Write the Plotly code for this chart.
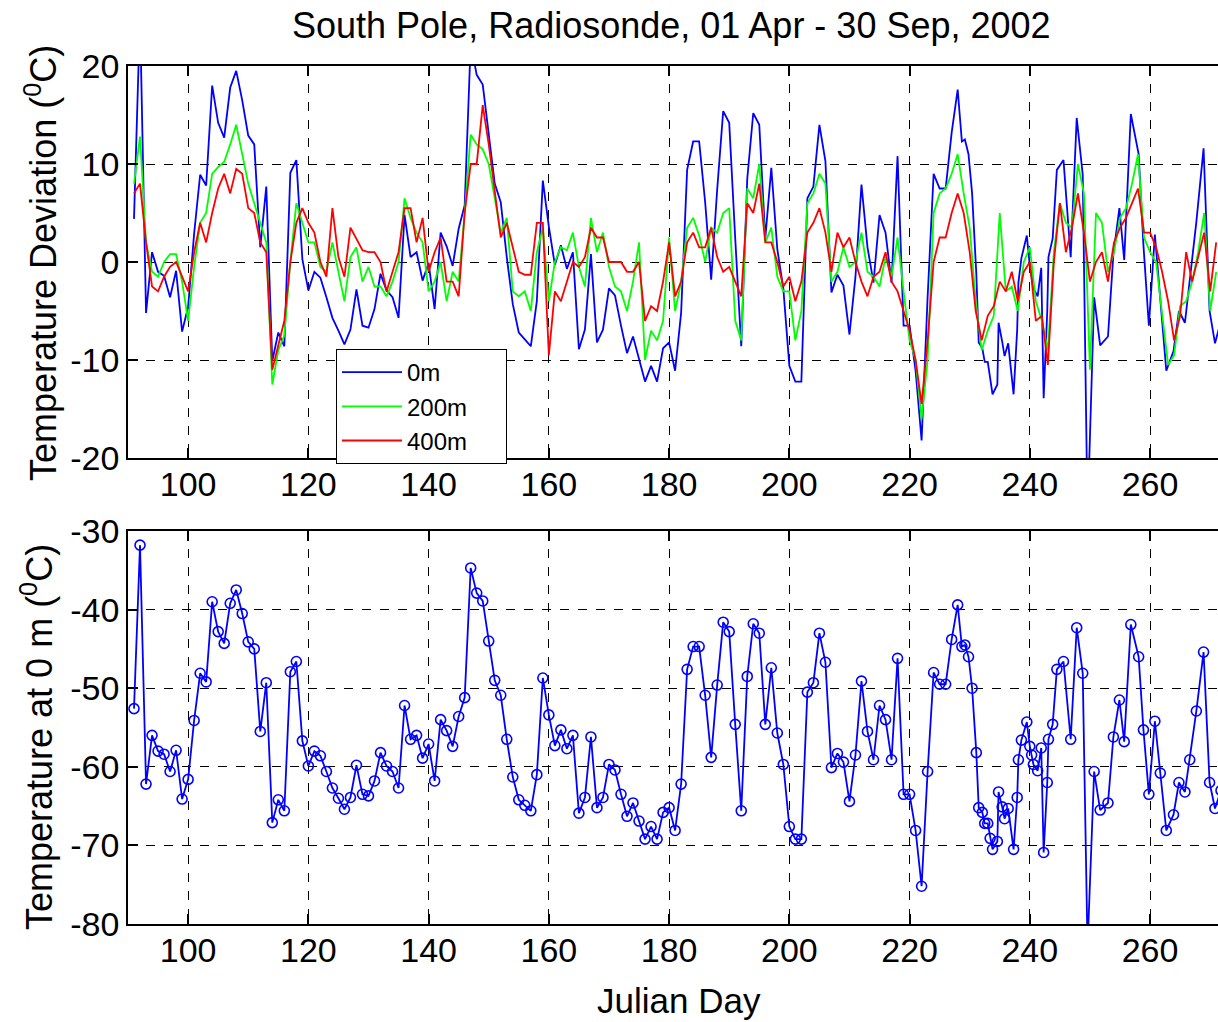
import plotly.graph_objects as go

# ---------------- data ----------------
# 0 m temperature (deg C), one sounding per day (bottom panel)
days_0m = list(range(91, 229)) + [
    228.7, 229.2, 229.8, 230.4, 231.1, 231.5, 232.1, 232.5, 233.0, 233.4, 233.8,
    234.6, 234.8, 235.4, 235.8, 236.4, 237.3, 237.9, 238.1, 238.6, 239.5, 240.0,
    240.3, 240.6, 241.3, 241.9, 242.3, 242.9, 243.1, 243.8, 244.5, 245.6, 246.8,
    247.8, 248.8, 249.6, 250.7, 251.7, 253.0, 253.9, 254.9, 255.7, 256.8, 258.1,
    258.9, 259.8, 260.8, 261.7, 262.7, 263.9, 264.8, 265.8, 266.6, 267.7, 268.9,
    269.9, 270.8, 271.8]
temp_0m = [
    -52.6, -31.8, -62.2, -56.0, -58.0, -58.4, -60.6, -57.9, -64.1, -61.6,   # 91-100
    -54.1, -48.1, -49.2, -39.0, -42.8, -44.3, -39.2, -37.5, -40.5, -44.1,   # 101-110
    -45.0, -55.5, -49.3, -67.1, -64.2, -65.6, -47.9, -46.6, -56.7, -59.9,   # 111-120
    -58.0, -58.6, -60.6, -62.7, -64.0, -65.4, -63.9, -59.8, -63.5, -63.7,   # 121-130
    -61.8, -58.2, -59.9, -60.6, -62.7, -52.2, -56.5, -56.0, -58.9, -57.1,   # 131-140
    -61.8, -54.0, -55.4, -57.4, -53.6, -51.2, -34.7, -37.9, -38.9, -44.0,   # 141-150
    -49.0, -50.9, -56.5, -61.3, -64.2, -64.9, -65.6, -61.0, -48.7, -53.4,   # 151-160
    -57.3, -55.3, -57.7, -56.0, -65.9, -63.9, -56.2, -65.2, -63.9, -59.7,   # 161-170
    -60.4, -63.5, -66.3, -64.6, -66.9, -69.2, -67.6, -69.2, -65.8, -65.2,   # 171-180
    -68.1, -62.2, -47.6, -44.7, -44.7, -50.9, -58.8, -49.6, -41.6, -42.8,   # 181-190
    -54.6, -65.6, -48.5, -41.8, -43.0, -54.6, -47.4, -55.7, -59.7, -67.6,   # 191-200
    -69.2, -69.2, -50.5, -49.3, -43.0, -46.7, -60.1, -58.3, -59.4, -64.4,   # 201-210
    -58.5, -49.1, -55.5, -59.1, -52.2, -54.0, -59.1, -46.2, -63.5, -63.5,   # 211-220
    -68.1, -75.2, -60.6, -48.0, -49.5, -49.5, -43.8, -39.4,                 # 221-228
    -44.7, -44.5, -46.0, -50.0, -58.2, -65.2, -65.8, -67.2, -67.2, -69.1, -70.5,
    -69.5, -63.2, -65.1, -66.6, -65.3, -70.5, -63.9, -59.1, -56.6, -54.3, -57.4,
    -58.5, -59.7, -60.5, -57.6, -70.9, -62.0, -56.5, -54.6, -47.6, -46.6, -56.5,
    -42.3, -48.1, -83.0, -60.6, -65.5, -64.6, -56.2, -51.5, -56.8, -41.9, -46.0,
    -55.3, -63.5, -54.2, -60.8, -68.1, -66.1, -62.0, -63.2, -59.1, -52.9, -45.4,
    -62.0, -65.3, -63.0]

# reference (period mean) temperature used for the 0 m deviation
ref_temp_0m = -57.0

# deviations at 200 m and 400 m (deg C), days 91..271
days_dev = list(range(91, 272))
dev_200m = [
    8, 12.8, 2, -1, -1.5, 0, 0.8, 0.8, -2, -6,                 # 91-100
    -0.5, 4, 5, 9, 9.7, 10.2, 12, 14, 11, 8,                   # 101-110
    6, 4, 2, -12.5, -9, -7.5, 0, 6, 4, 2,                      # 111-120
    2, -0.5, -1, 2, -1, -4, 0.5, 1.5, -2, -0.5,                # 121-130
    -2.5, -2.5, -3.5, -2, 0, 6.5, 4.5, 3, 2, -3,               # 131-140
    -2, 0, -4, -1, -2, 5, 13, 12, 11.5, 10,                    # 141-150
    6.5, 3, 4.5, -3, -3.5, -3, -5, 1, 3.5, -4,                 # 151-160
    0, 1.5, 1.2, 3, -0.5, -2.5, 4.5, 1, 3, -0.5,               # 161-170
    -2.5, -3, -5, -2, 2, -10, -7, -8, -6, 2.5,                 # 171-180
    -5, -2, 3.5, 4.5, 2.7, 0, 3.5, 3, 5, 5.5,                  # 181-190
    -6, -8, 7.5, 6.5, 10, 2, 3.5, -1.5, -3, -3,                # 191-200
    -8, -5, 6, 7, 9, 8, -2, -1, 1.5, -0.5,                     # 201-210
    0, 3, -1, -1.5, -2.5, 0.5, -1.5, 2.5, -3, -8,              # 211-220
    -10, -16, -10, 5, 7, 7.5, 9, 11, 7, 3.5,                   # 221-230
    -4, -9, -7, -5.5, 5, -3, -2.5, -5, 0, 1.5,                 # 231-240
    -4, -6, -9, 1, 6, 4, 3.5, 10, 7, -11,                      # 241-250
    5, 4, -1, 1, 4.5, 5.5, 8, 11, 2.5, 1,                      # 251-260
    0, -5, -10.5, -9.5, -4.5, -4, -2, 1, 5, -5,                # 261-270
    -1]                                                        # 271
dev_400m = [
    7, 8, 2, -2.5, -3, -1.5, -0.5, 0, -1.5, -3,                # 91-100
    1, 4, 2, 5, 7.5, 9, 7, 9.5, 9, 5.5,                        # 101-110
    5, 2, 1, -11, -8.5, -6, 0, 4, 5.5, 4,                      # 111-120
    3, 0, -1.5, 5.5, 0.5, -1.5, 3.5, 2.3, 1.2, 1,              # 121-130
    1, 0, -3, -1, 1, 5.5, 5.5, 2, 4.5, -1,                     # 131-140
    1, 2.5, -2, -2, -3.5, 5, 10, 10, 16, 12,                   # 141-150
    7, 2.5, 4, 1.5, -1, -1.3, -1.3, 4, 4, -9.5,                # 151-160
    -3, -4, -2, 0, -0.5, 0.5, 3.5, 2.5, 2.5, 0,                # 161-170
    0, 0, -1, -1, 0, -6, -4.5, -5, -2, 2,                      # 171-180
    -3.5, -2, 2, 3, 1.5, 1.5, 3.5, 0.5, -1, -0.5,              # 181-190
    -2, -3.5, 6, 5, 8, 2, 2, 0, -2.5, -1.5,                    # 191-200
    -4, -2, 3, 4, 5.5, 3, -1, 3, 1.5, 2.5,                     # 201-210
    0, -2, -3.5, -1.5, -1, 1, -2, -3, -5, -7,                  # 211-220
    -10, -14.5, -8, 0, 2.5, 2.5, 5, 7, 5, 1,                   # 221-230
    -5, -8, -5.5, -4.5, -2, -3, -1, -4, -1, 0,                 # 231-240
    -6, -5.5, -10.5, 0, 6, 1, 3.5, 7, 3, -2,                   # 241-250
    0, 1, -2, 2, 3.5, 4.5, 6, 7.5, 3, 3,                       # 251-260
    1.5, -1, -4, -8, -5.5, 1, -2, 0.5, 3, -3,                  # 261-270
    2]                                                         # 271

series_names = ["0m", "200m", "400m"]
x_ticks = [100, 120, 140, 160, 180, 200, 220, 240, 260]
y_ticks_top = [-20, -10, 0, 10, 20]
y_ticks_bottom = [-80, -70, -60, -50, -40, -30]

dev_0m = [t - ref_temp_0m for t in temp_0m]

# ---------------- figure ----------------
W, H = 1218, 1022
def fx(p):
    return p / W
def fy(p):
    return 1 - p / H

FONT = "Liberation Sans, Arial, sans-serif"
BLUE, GREEN, RED = "#0000ff", "#00ff00", "#ff0000"
LW = 1.8
NB = "\u00a0"

fig = go.Figure()
fig.add_trace(go.Scatter(x=days_0m, y=dev_0m, mode="lines", name=series_names[0] + NB * 9,
                         line=dict(color=BLUE, width=LW), xaxis="x", yaxis="y"))
fig.add_trace(go.Scatter(x=days_dev, y=dev_200m, mode="lines", name=series_names[1] + NB * 3,
                         line=dict(color=GREEN, width=LW), xaxis="x", yaxis="y"))
fig.add_trace(go.Scatter(x=days_dev, y=dev_400m, mode="lines", name=series_names[2] + NB * 3,
                         line=dict(color=RED, width=LW), xaxis="x", yaxis="y"))
fig.add_trace(go.Scatter(x=days_0m, y=temp_0m, mode="lines+markers", showlegend=False,
                         line=dict(color=BLUE, width=LW),
                         marker=dict(symbol="circle-open", size=10, color=BLUE,
                                     line=dict(width=1.6, color=BLUE)),
                         xaxis="x2", yaxis="y2"))

XR = [90.0, 271.3]
axis_common = dict(showgrid=True, gridcolor="black", griddash="dash", gridwidth=1,
                   showline=True, linecolor="black", linewidth=1.5,
                   ticks="inside", ticklen=10, tickcolor="black", tickwidth=1.5,
                   zeroline=False, tickfont=dict(family=FONT, size=34, color="black"),
                   automargin=False)

def labels(vals):
    return [str(v) for v in vals]

fig.update_layout(
    width=W, height=H,
    margin=dict(l=0, r=0, t=0, b=0),
    paper_bgcolor="white", plot_bgcolor="white",
    font=dict(family=FONT, color="black"),
    xaxis=dict(domain=[fx(128), 1], anchor="y", range=XR, tickvals=x_ticks,
               ticktext=labels(x_ticks), mirror="ticks", ticklabelstandoff=-5, **axis_common),
    yaxis=dict(domain=[fy(458), fy(66)], anchor="x", range=[-20, 20],
               tickvals=y_ticks_top, ticktext=labels(y_ticks_top), mirror=False, **axis_common),
    xaxis2=dict(domain=[fx(128), 1], anchor="y2", range=XR, tickvals=x_ticks,
                ticktext=labels(x_ticks), mirror="ticks", ticklabelstandoff=-5, **axis_common),
    yaxis2=dict(domain=[fy(924), fy(531)], anchor="x2", range=[-80, -30],
                tickvals=y_ticks_bottom, ticktext=labels(y_ticks_bottom), mirror=False,
                **axis_common),
    showlegend=True,
    legend=dict(x=fx(336), y=fy(349), xanchor="left", yanchor="top",
                bordercolor="black", borderwidth=1, bgcolor="white",
                font=dict(family=FONT, size=24, color="black"),
                tracegroupgap=0, itemwidth=60),
    annotations=[
        dict(text="South Pole, Radiosonde, 01 Apr - 30 Sep, 2002", x=fx(671), y=fy(26),
             xref="paper", yref="paper", showarrow=False, xanchor="center", yanchor="middle",
             font=dict(family=FONT, size=36, color="black")),
        dict(text="Temperature Deviation (<sup>0</sup>C)", x=fx(41), y=fy(263),
             xref="paper", yref="paper", showarrow=False, textangle=-90,
             xanchor="center", yanchor="middle",
             font=dict(family=FONT, size=36, color="black")),
        dict(text="Temperature at 0 m (<sup>0</sup>C)", x=fx(37), y=fy(737),
             xref="paper", yref="paper", showarrow=False, textangle=-90,
             xanchor="center", yanchor="middle",
             font=dict(family=FONT, size=36, color="black")),
        dict(text="Julian Day", x=fx(679), y=fy(1000),
             xref="paper", yref="paper", showarrow=False,
             xanchor="center", yanchor="middle",
             font=dict(family=FONT, size=35, color="black")),
    ],
)

fig.write_html("out.html")
